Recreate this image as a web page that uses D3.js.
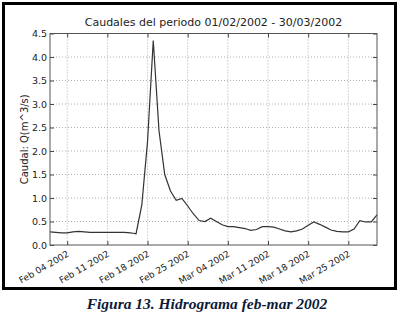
<!DOCTYPE html>
<html>
<head>
<meta charset="utf-8">
<script src="https://cdn.jsdelivr.net/npm/d3@7"></script>
<style>
  body { margin: 0; background: #fff; }
  svg { display: block; }
</style>
</head>
<body>
<div id="chart"></div>
<script>
// daily flows, 01/02/2002 .. 30/03/2002
const startDate = "2002-02-01";
const flows = [
    0.28, 0.27, 0.26, 0.26, 0.28, 0.29, 0.28, 0.27, 0.27, 0.27,
    0.27, 0.27, 0.27, 0.27, 0.26, 0.24, 0.85, 2.20, 4.35, 2.43,
    1.50, 1.15, 0.95, 0.99, 0.83, 0.66, 0.52, 0.50, 0.57, 0.50,
    0.43, 0.39, 0.39, 0.37, 0.35, 0.31, 0.33, 0.39, 0.39, 0.38,
    0.34, 0.30, 0.28, 0.30, 0.34, 0.42, 0.49, 0.44, 0.38, 0.32,
    0.29, 0.28, 0.28, 0.34, 0.52, 0.49, 0.49, 0.64
];
const yTicks = [0, 0.5, 1.0, 1.5, 2.0, 2.5, 3.0, 3.5, 4.0, 4.5];
const xTickDates = ["2002-02-04", "2002-02-11", "2002-02-18", "2002-02-25",
    "2002-03-04", "2002-03-11", "2002-03-18", "2002-03-25"];
const xTickLabels = ["Feb 04 2002", "Feb 11 2002", "Feb 18 2002", "Feb 25 2002",
    "Mar 04 2002", "Mar 11 2002", "Mar 18 2002", "Mar 25 2002"];
const title = "Caudales del periodo 01/02/2002 - 30/03/2002";
const yLabel = "Caudal: Q(m^3/s)";
const caption = "Figura 13. Hidrograma feb-mar 2002";

function main() {
    const W = 401, H = 318;
    const left = 50, right = 377, top = 33.5, bottom = 245;

    const parse = d3.utcParse("%Y-%m-%d");
    const t0 = parse(startDate);
    const data = flows.map((v, i) => ({ date: d3.utcDay.offset(t0, i), value: v }));

    const svg = d3.select("#chart").append("svg")
        .attr("width", W)
        .attr("height", H);

    // outer frame
    svg.append("rect")
        .attr("x", 3.5).attr("y", 3.5)
        .attr("width", 392).attr("height", 285)
        .attr("fill", "#fff")
        .attr("stroke", "#000")
        .attr("stroke-width", 3);

    const x = d3.scaleUtc()
        .domain([t0, data[data.length - 1].date])
        .range([left, right]);
    const y = d3.scaleLinear()
        .domain([0, 4.5])
        .range([bottom, top]);

    const tickDates = xTickDates.map(parse);
    const font = "'DejaVu Sans', sans-serif";

    // grid
    const grid = svg.append("g")
        .attr("stroke", "#999")
        .attr("stroke-width", 0.8)
        .attr("stroke-dasharray", "1,2");
    grid.selectAll(".gx").data(tickDates).enter().append("line")
        .attr("x1", d => x(d)).attr("x2", d => x(d))
        .attr("y1", top).attr("y2", bottom);
    grid.selectAll(".gy").data(yTicks.slice(1, -1)).enter().append("line")
        .attr("x1", left).attr("x2", right)
        .attr("y1", d => y(d)).attr("y2", d => y(d));

    // axes: ticks pointing inward like matplotlib
    svg.append("g")
        .attr("transform", "translate(0," + bottom + ")")
        .call(d3.axisTop(x).tickValues(tickDates).tickSize(4).tickFormat(""))
        .call(g => g.select(".domain").remove());
    svg.append("g")
        .attr("transform", "translate(0," + top + ")")
        .call(d3.axisBottom(x).tickValues(tickDates).tickSize(4).tickFormat(""))
        .call(g => g.select(".domain").remove());
    const yAxis = svg.append("g")
        .attr("transform", "translate(" + left + ",0)")
        .call(d3.axisRight(y).tickValues(yTicks).tickSize(4).tickFormat(""));
    yAxis.select(".domain").remove();
    yAxis.selectAll(".tick").append("text")
        .attr("x", -3).attr("dy", "0.35em")
        .attr("text-anchor", "end")
        .attr("fill", "#222")
        .style("font-family", font)
        .style("font-size", "9.5px")
        .text(d => d.toFixed(1));
    svg.append("g")
        .attr("transform", "translate(" + right + ",0)")
        .call(d3.axisLeft(y).tickValues(yTicks).tickSize(4).tickFormat(""))
        .call(g => g.select(".domain").remove());

    svg.selectAll(".tick line").attr("stroke", "#444");

    // x tick labels, rotated
    svg.append("g").selectAll("text")
        .data(tickDates).enter().append("text")
        .attr("transform", (d, i) => "translate(" + (x(d) + 1) + "," + (bottom + 8) + ") rotate(-30)")
        .attr("text-anchor", "end")
        .attr("dy", "0.35em")
        .attr("fill", "#222")
        .style("font-family", font)
        .style("font-size", "9px")
        .text((d, i) => xTickLabels[i]);

    // line
    svg.append("path")
        .datum(data)
        .attr("fill", "none")
        .attr("stroke", "#333")
        .attr("stroke-width", 1.2)
        .attr("d", d3.line()
            .x(d => x(d.date))
            .y(d => y(d.value)));

    // plot frame
    svg.append("rect")
        .attr("x", left).attr("y", top)
        .attr("width", right - left).attr("height", bottom - top)
        .attr("fill", "none")
        .attr("stroke", "#555")
        .attr("stroke-width", 1);

    svg.append("text")
        .attr("x", (left + right) / 2).attr("y", 26)
        .attr("text-anchor", "middle")
        .attr("fill", "#222")
        .style("font-family", font)
        .style("font-size", "11px")
        .text(title);

    svg.append("text")
        .attr("transform", "translate(28," + ((top + bottom) / 2) + ") rotate(-90)")
        .attr("text-anchor", "middle")
        .attr("fill", "#222")
        .style("font-family", font)
        .style("font-size", "10px")
        .text(yLabel);

    svg.append("text")
        .attr("x", 207).attr("y", 309)
        .attr("text-anchor", "middle")
        .attr("fill", "#0d1a3a")
        .style("font-family", "'Liberation Serif', 'Times New Roman', serif")
        .style("font-style", "italic")
        .style("font-weight", "bold")
        .style("font-size", "15.5px")
        .text(caption);
}
main();
</script>
</body>
</html>
